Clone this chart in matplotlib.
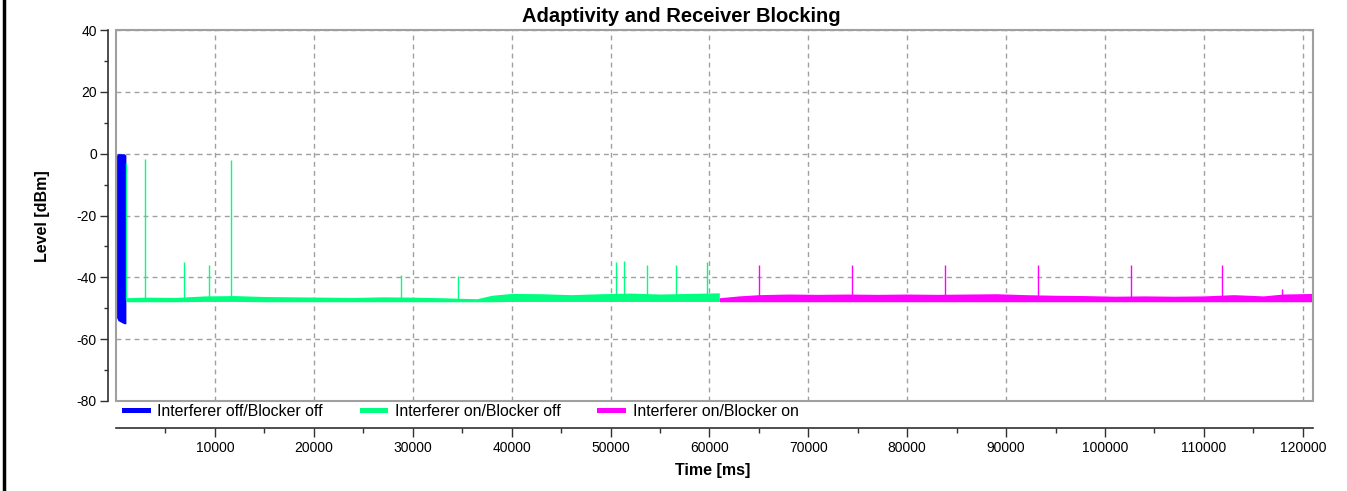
import matplotlib
matplotlib.use('Agg')
import matplotlib.pyplot as plt
from matplotlib.lines import Line2D
from matplotlib.patches import Rectangle
from matplotlib.ticker import FixedLocator

plt.rcParams['font.family'] = ['Liberation Sans', 'DejaVu Sans']
plt.rcParams['axes.unicode_minus'] = False

# Interferer off / Blocker off: dense swing between 0 and about -55 dBm
blue_t = [60, 200, 500, 800, 1000]
blue_hi = [-0.5, 0, 0, 0, -0.5]
blue_lo = [-53, -54, -54.5, -55, -55]

# Interferer on / Blocker off: noise band (upper / lower envelope) + spikes
green_t = [1000, 3000, 6000, 9000, 12000, 15000, 18000, 21000, 24000, 27000,
           30000, 33000, 35000, 36500, 38000, 40000, 43000, 46000, 49000,
           52000, 55000, 58000, 61000]
green_hi = [-46.6, -46.4, -46.5, -46.0, -45.9, -46.2, -46.3, -46.4, -46.5, -46.3,
            -46.4, -46.6, -46.8, -46.9, -45.8, -45.2, -45.3, -45.6, -45.3,
            -45.1, -45.4, -45.2, -45.0]
green_lo = [-47.9, -47.9, -47.9, -47.8, -47.8, -47.9, -47.9, -47.9, -47.9, -47.9,
            -47.9, -47.9, -47.9, -47.9, -47.9, -47.8, -47.8, -47.8, -47.8,
            -47.8, -47.8, -47.8, -47.8]
green_spike_t = [1050, 2900, 6900, 9400, 11600, 28800, 34600, 50600, 51400,
                 53700, 56600, 59800]
green_spike_v = [-3, -1.6, -35.1, -36, -2, -39.3, -39.6, -35.1, -34.7,
                 -36, -36, -35.1]

# Interferer on / Blocker on
mag_t = [61000, 63000, 65000, 68000, 71000, 74000, 77000, 80000, 83000, 86000,
         89000, 92000, 95000, 98000, 101000, 104000, 107000, 110000, 113000,
         116000, 118000, 121000]
mag_hi = [-46.6, -46.0, -45.6, -45.4, -45.5, -45.4, -45.5, -45.4, -45.5, -45.4,
          -45.3, -45.6, -45.8, -45.9, -46.1, -46.0, -46.1, -46.0, -45.6,
          -46.0, -45.4, -45.2]
mag_lo = [-47.9] * len(mag_t)
mag_spike_t = [65000, 74400, 83800, 93200, 102600, 111800, 117900]
mag_spike_v = [-36, -36, -36, -36, -36, -36, -43.9]

series_names = ['Interferer off/Blocker off', 'Interferer on/Blocker off',
                'Interferer on/Blocker on']
series_colors = ['#0000ff', '#00ff80', '#ff00ff']

W, H = 1347, 491
fig = plt.figure(figsize=(W / 100, H / 100), dpi=100)
ax = fig.add_axes([116 / W, 1 - 401 / H, (1313 - 116) / W, (401 - 30) / H])

ax.fill_between(blue_t, blue_lo, blue_hi, color=series_colors[0], lw=0, zorder=3)
ax.fill_between(green_t, green_lo, green_hi, color=series_colors[1], lw=0, zorder=3)
ax.vlines(green_spike_t, -47, green_spike_v, color=series_colors[1], lw=1.0, zorder=3)
ax.fill_between(mag_t, mag_lo, mag_hi, color=series_colors[2], lw=0, zorder=3)
ax.vlines(mag_spike_t, -47, mag_spike_v, color=series_colors[2], lw=1.0, zorder=3)

ax.set_xlim(0, 121030)
ax.set_ylim(-80, 40)

ax.xaxis.set_major_locator(FixedLocator(range(10000, 120001, 10000)))
ax.xaxis.set_minor_locator(FixedLocator(range(5000, 120000, 10000)))
ax.yaxis.set_major_locator(FixedLocator(range(-80, 41, 20)))
ax.yaxis.set_minor_locator(FixedLocator(range(-70, 40, 20)))

ax.grid(True, which='major', color='#a0a0a0', lw=1, linestyle=(0, (3.5, 3)), zorder=1)
ax.set_axisbelow(True)

for s in ['top', 'right']:
    ax.spines[s].set_visible(False)
ax.spines['left'].set_position(('outward', 8 * 0.72))
ax.spines['bottom'].set_position(('outward', 27 * 0.72))
for s in ['left', 'bottom']:
    ax.spines[s].set_color('#303030')
    ax.spines[s].set_linewidth(1.2)

ax.add_patch(Rectangle((0, 0), 1, 1, transform=ax.transAxes, fill=False,
                       ec='#a0a0a0', lw=1.5, clip_on=False, zorder=4))

ax.tick_params(axis='y', which='major', length=6, width=1, pad=2, labelsize=10, color='#303030')
ax.tick_params(axis='y', which='minor', length=3, width=1, color='#303030')
ax.tick_params(axis='x', which='major', length=6.5, width=1, pad=3, labelsize=10, color='#303030')
ax.tick_params(axis='x', which='minor', length=3.6, width=1, color='#303030')

handles = [Line2D([], [], color=c, lw=3.6) for c in series_colors]
ax.legend(handles, series_names, loc='upper left', bbox_to_anchor=(0.0067, -0.008),
          ncol=3, frameon=False, fontsize=11.4, handlelength=1.5, handletextpad=0.6,
          columnspacing=2.45, borderpad=0, borderaxespad=0)

fig.text(681 / W, 1 - 17 / H, 'Adaptivity and Receiver Blocking', ha='center', va='center',
         fontsize=14.5, fontweight='bold')
fig.text(43 / W, 1 - 216 / H, 'Level [dBm]', ha='center', va='center', rotation=90,
         fontsize=11.5, fontweight='bold')
fig.text(713 / W, 1 - 471 / H, 'Time [ms]', ha='center', va='center',
         fontsize=11.5, fontweight='bold')

fig.add_artist(Line2D([4 / W, 4 / W], [0, 1], transform=fig.transFigure, color='black', lw=2.5))

fig.savefig('out.png', dpi=100)
